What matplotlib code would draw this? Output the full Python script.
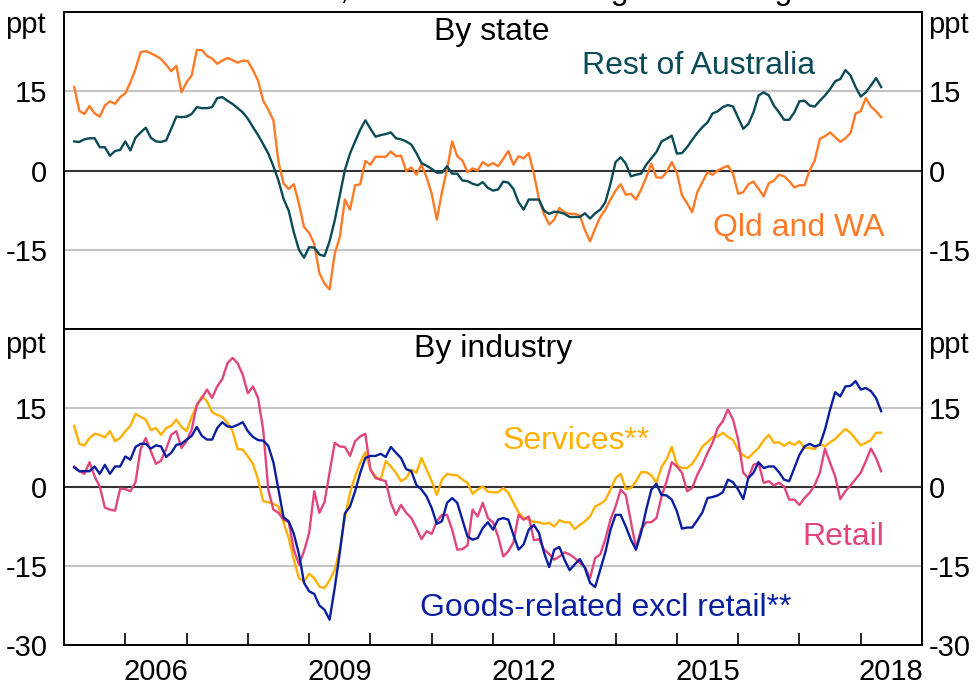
import numpy as np
import pandas as pd
import matplotlib
matplotlib.use("Agg")
import matplotlib.pyplot as plt
from matplotlib.ticker import FixedLocator, NullFormatter, FixedFormatter

plt.rcParams['font.family'] = ['Liberation Sans', 'DejaVu Sans']

# ---- data (monthly, Feb 2005 - Apr 2018), ppt deviation ----
dates = pd.date_range('2005-02-28', periods=159, freq='ME')
t = dates.year + dates.month / 12.0

qld_wa = [
    15.8, 11.3, 10.7, 12.2, 10.8, 10.2, 12.3, 13.1, 12.6, 13.9,
    14.6, 16.7, 19.2, 22.4, 22.6, 22.2, 21.7, 21.1, 20.0, 18.8,
    19.8, 14.8, 16.7, 18.0, 22.8, 22.8, 21.7, 21.2, 20.2, 20.8,
    21.3, 20.9, 20.4, 20.8, 20.7, 19.0, 17.0, 13.2, 11.5, 9.5,
    1.6, -2.5, -3.5, -2.6, -6.3, -10.7, -11.8, -13.9, -19.4, -21.4,
    -22.5, -15.8, -12.6, -5.5, -7.4, -2.8, -2.6, 1.8, 1.1, 2.6,
    2.6, 2.6, 3.6, 2.7, 2.8, -0.1, 0.6, -0.8, 1.1, -1.3,
    -4.4, -9.3, -4.1, 0.2, 5.5, 2.7, 1.9, -0.3, 0.4, 0.0,
    1.6, 0.9, 1.4, 0.8, 2.2, 3.7, 1.1, 2.7, 2.3, 3.3,
    -0.6, -5.4, -8.3, -10.2, -9.3, -7.1, -7.9, -8.2, -8.2, -8.5,
    -11.3, -13.4, -11.0, -8.8, -7.4, -5.5, -3.8, -2.6, -4.6, -4.4,
    -5.5, -3.6, -1.3, 1.3, -1.3, -1.4, -0.3, 1.6, -0.4, -4.7,
    -6.2, -7.9, -4.1, -2.2, -0.3, -0.8, 0.0, 0.5, 0.9, -0.6,
    -4.4, -4.1, -2.6, -2.1, -3.5, -4.9, -2.4, -1.9, -0.8, -1.1,
    -2.0, -3.2, -2.8, -2.8, 0.0, 1.9, 6.0, 6.5, 7.2, 6.3,
    5.4, 6.1, 7.1, 10.8, 11.2, 13.7, 12.1, 11.2, 10.1,
]

rest_aus = [
    5.5, 5.4, 5.9, 6.1, 6.1, 4.4, 4.4, 2.8, 3.7, 3.9,
    5.5, 3.8, 6.2, 7.2, 8.1, 6.2, 5.5, 5.4, 5.7, 7.9,
    10.2, 10.1, 10.2, 10.7, 12.0, 11.8, 11.8, 12.0, 13.7, 13.9,
    13.2, 12.6, 11.8, 11.0, 9.8, 8.2, 6.7, 5.0, 3.2, 0.8,
    -1.9, -5.4, -7.6, -11.7, -15.0, -16.5, -14.5, -14.6, -15.9, -16.2,
    -13.4, -9.5, -4.7, 0.1, 3.2, 5.5, 7.7, 9.5, 7.9, 6.4,
    6.7, 6.9, 7.2, 6.1, 5.9, 5.5, 4.9, 3.3, 1.4, 0.9,
    0.3, -0.4, -0.4, 0.8, -0.6, -0.6, -1.9, -2.0, -2.5, -2.8,
    -2.2, -3.3, -3.8, -3.6, -2.1, -2.3, -3.5, -6.0, -7.4, -5.5,
    -5.5, -5.5, -7.6, -8.2, -7.8, -7.9, -8.2, -8.8, -8.8, -8.8,
    -8.1, -9.1, -8.1, -7.4, -6.0, -2.5, 1.6, 2.5, 1.3, -1.1,
    -0.8, -0.6, 1.1, 2.3, 3.5, 5.5, 6.0, 6.6, 3.2, 3.3,
    4.4, 5.8, 7.1, 8.2, 9.1, 10.8, 11.2, 12.0, 12.4, 12.1,
    10.0, 7.9, 8.8, 11.0, 14.2, 14.8, 14.2, 12.3, 11.0, 9.6,
    9.6, 11.0, 13.1, 13.2, 12.3, 12.1, 13.2, 14.2, 15.4, 16.9,
    17.3, 19.0, 18.0, 15.8, 14.0, 14.8, 16.1, 17.5, 15.8,
]

services = [
    11.6, 8.2, 7.9, 9.3, 10.1, 9.9, 9.4, 10.6, 8.7, 9.3,
    10.6, 11.6, 13.9, 13.3, 12.8, 10.8, 11.2, 9.9, 11.2, 11.6,
    12.8, 11.4, 10.6, 13.3, 15.4, 17.2, 16.3, 14.2, 13.7, 13.3,
    12.2, 10.6, 7.2, 7.1, 5.8, 4.4, 1.4, -2.7, -2.9, -3.2,
    -3.7, -6.8, -9.7, -13.8, -17.3, -17.9, -16.5, -17.3, -18.9, -19.2,
    -17.7, -15.8, -11.8, -5.9, -1.1, 2.0, 4.6, 6.6, 3.3, 2.0,
    1.4, 4.9, 3.9, 2.7, 1.1, 1.7, 3.3, 2.7, 5.5, 3.3,
    1.1, -1.5, 1.4, 2.5, 2.3, 2.2, 1.4, 0.8, -1.3, -0.5,
    0.1, -0.9, -1.0, -1.0, -0.2, -1.1, -3.0, -4.8, -5.9, -6.2,
    -6.6, -6.7, -7.0, -6.8, -7.5, -6.3, -6.7, -6.7, -8.0, -7.2,
    -6.5, -5.6, -3.7, -3.2, -2.5, -0.5, 1.7, 2.5, -0.4, -0.2,
    1.1, 2.8, 2.8, 2.2, 0.8, 3.8, 5.3, 7.6, 4.2, 3.6,
    3.6, 4.4, 5.9, 7.7, 8.5, 9.5, 9.6, 10.3, 9.5, 8.9,
    7.0, 6.0, 5.5, 6.5, 7.4, 8.9, 9.9, 8.4, 8.5, 7.8,
    8.5, 8.0, 8.7, 7.4, 7.4, 7.2, 8.2, 7.7, 8.5, 9.1,
    10.1, 11.0, 10.3, 9.1, 7.9, 8.4, 8.9, 10.3, 10.3,
]

retail = [
    3.9, 3.0, 2.5, 4.7, 2.0, 0.1, -3.9, -4.3, -4.5, -0.3,
    -0.4, -0.8, 0.9, 7.2, 9.3, 6.8, 4.4, 5.0, 7.2, 9.9,
    10.6, 7.4, 8.7, 10.9, 15.6, 16.9, 18.5, 16.9, 19.1, 20.5,
    23.5, 24.5, 23.5, 21.3, 17.8, 19.1, 16.9, 10.9, -0.5, -4.3,
    -4.9, -6.2, -6.7, -11.9, -14.7, -12.2, -8.7, -0.8, -4.9, -2.9,
    2.7, 8.4, 7.7, 7.6, 5.9, 8.7, 9.6, 10.1, 3.3, 1.7,
    1.4, 1.1, -3.0, -5.3, -3.4, -4.9, -5.9, -7.8, -9.9, -8.4,
    -8.9, -6.5, -5.3, -5.3, -8.1, -11.9, -11.8, -11.1, -4.3, -5.6,
    -3.0, -5.9, -6.7, -9.4, -13.2, -12.2, -10.5, -5.3, -6.2, -5.6,
    -10.1, -9.9, -11.9, -12.7, -13.8, -13.2, -12.4, -12.8, -13.5, -14.4,
    -15.2, -17.3, -13.5, -12.8, -9.9, -6.2, -3.7, -0.5, -1.5, -6.5,
    -11.6, -8.0, -6.7, -6.7, -5.9, -1.8, 1.1, 4.7, 3.9, 2.7,
    -0.8, -0.2, 2.3, 4.2, 6.5, 8.4, 11.2, 12.5, 14.7, 12.8,
    9.0, 2.7, 1.7, 4.2, 4.6, 0.8, 1.1, 0.3, 0.8, 0.1,
    -2.4, -2.4, -3.4, -2.1, -1.1, 0.4, 2.7, 7.3, 4.6, 2.0,
    -2.3, -0.8, 0.3, 1.5, 2.7, 4.9, 7.3, 5.5, 3.0,
]

goods = [
    3.7, 3.0, 3.0, 3.0, 3.9, 2.5, 4.2, 2.5, 3.9, 3.9,
    5.8, 5.2, 7.6, 8.2, 8.2, 7.3, 7.9, 7.7, 5.7, 6.5,
    8.0, 8.2, 9.0, 9.7, 11.4, 9.7, 9.0, 9.0, 11.2, 12.3,
    11.5, 11.4, 11.8, 12.3, 10.6, 9.5, 8.9, 8.8, 7.8, 4.7,
    -0.5, -5.8, -6.5, -8.9, -12.7, -18.2, -19.8, -20.3, -22.5, -23.3,
    -25.2, -19.2, -12.5, -5.0, -3.7, -0.8, 2.7, 5.5, 5.9, 5.9,
    6.3, 5.7, 7.6, 6.5, 5.5, 3.4, 3.0, 0.4, -0.5, -1.8,
    -4.0, -7.0, -6.5, -3.0, -2.1, -3.0, -6.2, -9.4, -10.0, -9.7,
    -7.8, -6.7, -8.1, -6.2, -5.9, -6.2, -9.1, -11.9, -10.9, -8.1,
    -7.2, -8.7, -12.5, -15.2, -11.9, -11.4, -13.8, -15.8, -14.7, -13.7,
    -15.4, -18.2, -19.0, -15.7, -12.4, -8.1, -5.3, -5.3, -7.5, -10.0,
    -11.9, -8.7, -4.3, -0.5, 0.6, -1.5, -1.6, -2.4, -4.6, -7.9,
    -7.7, -7.7, -6.3, -4.8, -2.1, -1.9, -1.6, -1.0, 1.4, 0.9,
    -0.5, -2.3, 1.7, 2.7, 4.7, 3.6, 3.9, 3.9, 2.8, 1.4,
    1.1, 3.6, 6.1, 7.7, 8.2, 7.7, 8.0, 10.9, 14.7, 18.0,
    17.2, 19.1, 19.2, 20.1, 18.5, 18.8, 18.2, 16.9, 14.4,
]

year_ticks = list(range(2006, 2019))
year_labels = ['2006', '2009', '2012', '2015', '2018']
y_ticks = [-30, -15, 0, 15, 30]

# ---- styling ----
C_TEAL = '#0B4A57'
C_ORANGE = '#FF7A26'
C_PINK = '#E0457E'
C_YELLOW = '#FFB000'
C_BLUE = '#0A1EA0'
LW = 1.7
TICK_FS, LABEL_FS = 21, 23

fig = plt.figure(figsize=(9.79, 6.90), dpi=100)
L, W = 64 / 979, 858 / 979
ax1 = fig.add_axes([L, 1 - 329 / 690, W, 317 / 690])
ax2 = fig.add_axes([L, 1 - 645 / 690, W, 316 / 690])

# partially cut-off subtitle at the very top (as in the reference)
fig.text(0.5, 1 + 1.0 / 690, 'Net balance, deviation from long-run average',
         ha='center', va='baseline', fontsize=LABEL_FS)


def style(ax, lefttxt_y, show_min30):
    ax.set_xlim(2005, 2019)
    ax.set_ylim(-30, 30)
    for s in ax.spines.values():
        s.set_linewidth(1.4)
        s.set_color('black')
    ax.axhline(15, color='#c4c4c4', lw=1.5, zorder=1)
    ax.axhline(-15, color='#c4c4c4', lw=1.5, zorder=1)
    ax.axhline(0, color='#333333', lw=1.5, zorder=1)
    labels = ['-30' if show_min30 else '', '-15', '0', '15', '']
    ax.yaxis.set_major_locator(FixedLocator(y_ticks))
    ax.yaxis.set_major_formatter(FixedFormatter(labels))
    ax.tick_params(axis='y', length=0, pad=12, labelsize=TICK_FS)
    axr = ax.twinx()
    axr.set_ylim(-30, 30)
    axr.yaxis.set_major_locator(FixedLocator(y_ticks))
    axr.yaxis.set_major_formatter(FixedFormatter(labels))
    axr.tick_params(axis='y', length=0, pad=5, labelsize=TICK_FS)
    for s in axr.spines.values():
        s.set_visible(False)
    ax.text(-0.021, lefttxt_y, 'ppt', transform=ax.transAxes, ha='right',
            va='baseline', fontsize=TICK_FS)
    ax.text(1.007, lefttxt_y, 'ppt', transform=ax.transAxes, ha='left',
            va='baseline', fontsize=TICK_FS)


style(ax1, 0.935, False)
style(ax2, 0.925, True)

ax1.set_xticks([])
ax2.xaxis.set_major_locator(FixedLocator(year_ticks))
ax2.xaxis.set_major_formatter(NullFormatter())
ax2.xaxis.set_minor_locator(FixedLocator([int(y) + 0.5 for y in year_labels]))
ax2.xaxis.set_minor_formatter(FixedFormatter(year_labels))
ax2.tick_params(axis='x', which='major', direction='in', length=9, width=1.2)
ax2.tick_params(axis='x', which='minor', length=0, pad=9, labelsize=TICK_FS)

# ---- top panel ----
ax1.plot(t, qld_wa, color=C_ORANGE, lw=LW, zorder=3)
ax1.plot(t, rest_aus, color=C_TEAL, lw=LW, zorder=4)
ax1.text(2011.98, 26.3, 'By state', ha='center', va='center', fontsize=LABEL_FS)
ax1.text(2013.45, 19.8, 'Rest of Australia', ha='left', va='center',
         fontsize=LABEL_FS, color=C_TEAL)
ax1.text(2015.59, -10.8, 'Qld and WA', ha='left', va='center',
         fontsize=LABEL_FS, color=C_ORANGE)

# ---- bottom panel ----
ax2.plot(t, services, color=C_YELLOW, lw=LW, zorder=3)
ax2.plot(t, retail, color=C_PINK, lw=LW, zorder=4)
ax2.plot(t, goods, color=C_BLUE, lw=LW, zorder=5)
ax2.text(2012.0, 26.2, 'By industry', ha='center', va='center', fontsize=LABEL_FS)
ax2.text(2012.15, 8.7, 'Services**', ha='left', va='center',
         fontsize=LABEL_FS, color=C_YELLOW)
ax2.text(2017.04, -9.5, 'Retail', ha='left', va='center',
         fontsize=LABEL_FS, color=C_PINK)
ax2.text(2010.81, -23.0, 'Goods-related excl retail**', ha='left', va='center',
         fontsize=LABEL_FS, color=C_BLUE)

fig.savefig('out.png', dpi=100)
